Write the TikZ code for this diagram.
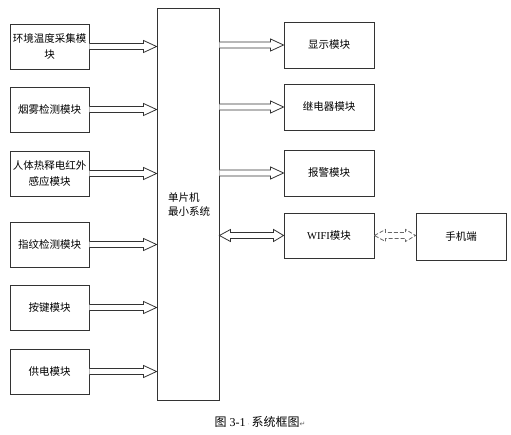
\documentclass[tikz,border=0pt]{standalone}
\usepackage{fontspec}
\setmainfont{Liberation Serif}
\newfontfamily\cjk{Noto Sans CJK SC}
\newfontfamily\dv{DejaVu Sans}
\usetikzlibrary{calc}
\tikzset{
  box/.style={draw=black!80, line width=0.9pt, minimum width=79pt, minimum height=45pt,
    inner sep=0pt, align=center, font=\cjk\fontsize{10.5}{16}\selectfont},
  rbox/.style={box, minimum width=90pt},
  arr/.style={draw=black!80, line width=0.8pt, fill=white, line join=miter},
  darr/.style={arr, draw=black!60, dashed, dash pattern=on 4pt off 2pt}
}
% one-headed hollow arrow from #2 to #3 (same y)
\newcommand\hollowarrow[3][arr]{%
  \path (#2) coordinate (hs) (#3) coordinate (he);
  \draw[#1] ($(hs)+(0,3)$) -- ($(he)+(-13,3)$) -- ($(he)+(-13,6)$) -- (he)
    -- ($(he)+(-13,-6)$) -- ($(he)+(-13,-3)$) -- ($(hs)+(0,-3)$);
}
% two-headed hollow arrow from #2 to #3 (same y)
\newcommand\hollowdarrow[3][arr]{%
  \path (#2) coordinate (hs) (#3) coordinate (he);
  \draw[#1] (hs) -- ($(hs)+(11,-6)$) -- ($(hs)+(11,-3)$) -- ($(he)+(-10,-3)$)
    -- ($(he)+(-10,-6)$) -- (he) -- ($(he)+(-10,6)$) -- ($(he)+(-10,3)$)
    -- ($(hs)+(11,3)$) -- ($(hs)+(11,6)$) -- cycle;
}
\begin{document}
\begin{tikzpicture}[x=1pt, y=-1pt]
\useasboundingbox (0,0) rectangle (511,435);
% central
\node[box, minimum width=62pt, minimum height=392pt] (M) at (188,204) {};
\node[font=\cjk\fontsize{10.5}{14}\selectfont, align=left, inner sep=0pt] (Mt) at (189,205) {单片机\\最小系统};
% left
\node[box] (L1) at (49.5,46.5) {环境温度采集模\\块};
\node[box] (L2) at (49.5,109.5) {烟雾检测模块};
\node[box] (L3) at (49.5,173.5) {人体热释电红外\\感应模块};
\node[box] (L4) at (49.5,244.5) {指纹检测模块};
\node[box] (L5) at (49.5,307.5) {按键模块};
\node[box] (L6) at (49.5,371.5) {供电模块};
% right
\node[rbox, minimum height=46pt] (R1) at (329,45) {显示模块};
\node[rbox, minimum height=46pt] (R2) at (329,107) {继电器模块};
\node[rbox, minimum height=46pt] (R3) at (329,173) {报警模块};
\node[rbox] (R4) at (329,235.5) {{\rmfamily WIFI}模块};
\node[rbox, minimum height=47pt] (P) at (461,236.5) {手机端};
% arrows
\foreach \n in {L1,L2,L3,L4,L5,L6} {\hollowarrow{\n.east}{\n.east -| M.west}}
\hollowarrow{R1.west -| M.east}{R1.west}
\hollowarrow{R2.west -| M.east}{R2.west}
\hollowarrow{R3.west -| M.east}{R3.west}
\hollowdarrow{R4.west -| M.east}{R4.west}
\hollowdarrow[darr]{R4.east}{P.west |- R4.east}
% caption
\node[inner sep=0pt, font=\fontsize{12}{14}\selectfont] (cap) at (260,422)
  {{\cjk 图} 3-1\,\textcolor{black!50}{\fontsize{6}{6}\selectfont\dv ·}\,{\cjk 系统框图}{\dv\fontsize{7}{7}\selectfont\textcolor{black!60}{↵}}};
\end{tikzpicture}
\end{document}
